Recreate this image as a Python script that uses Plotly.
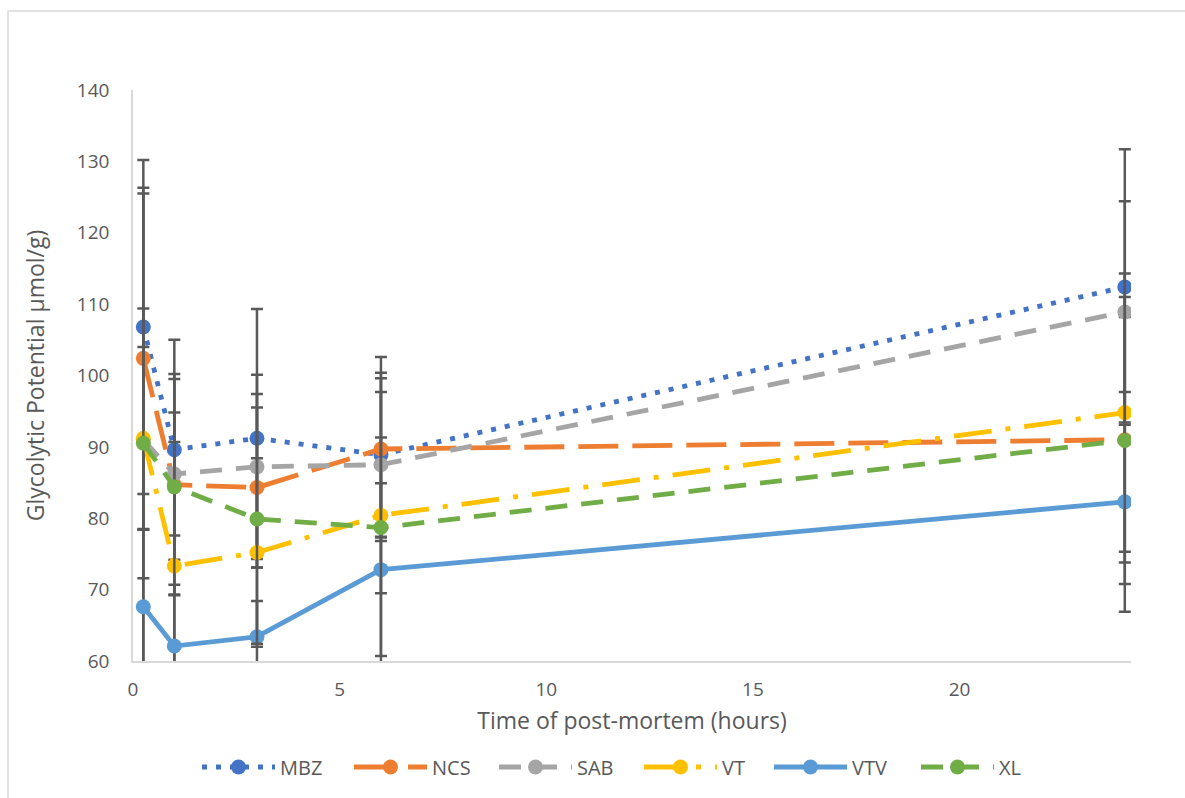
import plotly.graph_objects as go

# Sampling times (hours post-mortem)
hours = [0.25, 1, 3, 6, 24]

# Mean glycolytic potential per group (µmol/g)
mbz = [106.8, 89.6, 91.2, 88.9, 112.4]
ncs = [102.4, 84.7, 84.3, 89.7, 91.0]
sab = [91.0, 86.2, 87.2, 87.5, 108.9]
vt = [91.2, 73.3, 75.2, 80.4, 94.8]
vtv = [67.6, 62.1, 63.4, 72.8, 82.3]
xl = [90.5, 84.4, 79.9, 78.7, 90.9]

# Error bar half-lengths per group
mbz_err = [23.4, 15.4, 18.1, 11.5, 19.3]
ncs_err = [23.9, 15.5, 11.2, 12.9, 17.2]
sab_err = [34.5, 8.6, 12.9, 10.2, 15.5]
vt_err = [12.8, 17.4, 13.2, 10.9, 19.5]
vtv_err = [10.8, 8.6, 5.0, 12.1, 15.4]
xl_err = [18.9, 15.1, 17.5, 20.9, 20.1]

y_ticks = [60, 70, 80, 90, 100, 110, 120, 130, 140]
x_ticks = [0, 5, 10, 15, 20]

series = [
    ("MBZ", mbz, mbz_err, "#4472C4", "5px,9px"),
    ("NCS", ncs, ncs_err, "#ED7D31", "40px,14px"),
    ("SAB", sab, sab_err, "#A5A5A5", "22px,14px"),
    ("VT", vt, vt_err, "#FFC000", "38px,14px,5px,14px"),
    ("VTV", vtv, vtv_err, "#5B9BD5", "solid"),
    ("XL", xl, xl_err, "#70AD47", "22px,14px"),
]

FONT = "Open Sans"
TEXT = "#595959"

# plot-area geometry in pixels
W, H = 1185, 798
L, T, B = 133, 90, 137
X_MAX = 24.15
pw = round(992 * X_MAX / 24)
R = W - L - pw
ph = H - T - B


def px_x(p):
    return (p - L) / pw


def px_y(p):
    return (H - B - p) / ph


# left edge (px) of each legend entry along the bottom row
legend_left = [197, 349, 494, 639, 769, 916]
legend_ids = ["legend"] + [f"legend{i}" for i in range(2, 7)]

fig = go.Figure()
for (name, vals, errs, color, dash), lid in zip(series, legend_ids):
    fig.add_trace(go.Scatter(
        x=hours, y=vals, name=name, mode="lines+markers", legend=lid,
        line=dict(color=color, width=4.8, dash=dash),
        marker=dict(color=color, size=15, line=dict(width=0)),
        error_y=dict(type="data", array=errs, visible=True,
                     color="#595959", thickness=2.5, width=6),
    ))

legends = {}
for lid, left in zip(legend_ids, legend_left):
    legends[lid] = dict(
        orientation="h", x=px_x(left), xanchor="left",
        y=px_y(767), yanchor="middle", itemwidth=73,
        bgcolor="rgba(0,0,0,0)", borderwidth=0,
        font=dict(family=FONT, size=20, color=TEXT),
    )

fig.update_layout(
    width=W, height=H,
    margin=dict(l=L, r=R, t=T, b=B),
    paper_bgcolor="white", plot_bgcolor="white",
    font=dict(family=FONT, color=TEXT, size=19),
    showlegend=True,
    xaxis=dict(
        range=[0, X_MAX], tickvals=x_ticks, ticktext=[str(v) for v in x_ticks],
        showgrid=False, zeroline=False, showline=True, linecolor="#D9D9D9",
        linewidth=1.5, ticks="", ticklabelstandoff=10,
        tickfont=dict(family=FONT, size=19, color=TEXT),
        title=dict(text="Time of post-mortem (hours)",
                   font=dict(family=FONT, size=23, color=TEXT), standoff=12),
    ),
    yaxis=dict(
        range=[60, 140], tickvals=y_ticks, ticktext=[str(v) for v in y_ticks],
        showgrid=False, zeroline=False, showline=True, linecolor="#D9D9D9",
        linewidth=1.5, ticks="", ticklabelstandoff=18,
        tickfont=dict(family=FONT, size=19, color=TEXT),
        title=dict(text="Glycolytic Potential µmol/g)",
                   font=dict(family=FONT, size=23, color=TEXT), standoff=26),
    ),
    shapes=[dict(
        type="rect", xref="paper", yref="paper",
        x0=px_x(8), x1=px_x(1195), y0=px_y(810), y1=px_y(11),
        line=dict(color="#D9D9D9", width=1.5), layer="below",
    )],
    **legends,
)

fig.write_html("out.html")
